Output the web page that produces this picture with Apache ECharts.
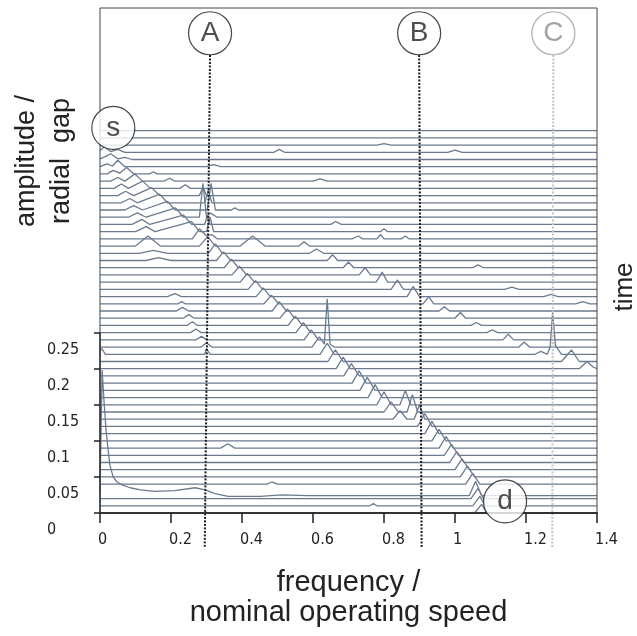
<!DOCTYPE html>
<html>
<head>
<meta charset="utf-8">
<script src="https://cdn.jsdelivr.net/npm/echarts@6/dist/echarts.min.js"></script>
<style>
  html, body { margin: 0; padding: 0; background: #fff; }
  #chart { width: 637px; height: 636px; }
</style>
</head>
<body>
<div id="chart"></div>
<script>
// Waterfall of amplitude spectra: one spectrum per time step, stacked upwards.
const levelStep = 0.01;            // vertical offset between successive spectra
const freqMax = 1.4;
const ampMax = 0.7;
const ampTicks = [0, 0.05, 0.1, 0.15, 0.2, 0.25];

// Break points of each spectrum, [freq, amplitude above own baseline, ...],
// listed from the top (earliest) spectrum to the bottom (latest) one.
const spectra = [
  [],
  [],
  [0.78,0, 0.80,0.002, 0.82,0],
  [0,0.002, 0.012,0.008, 0.03,0.001, 0.05,0.004, 0.07,0, 0.49,0, 0.505,0.004, 0.52,0, 0.98,0, 1.0,0.003, 1.02,0],
  [0,0.001, 0.015,0.004, 0.03,0.008, 0.05,0.001, 0.07,0.003, 0.09,0],
  [0,0, 0.02,0.004, 0.035,0.001, 0.05,0.009, 0.07,0, 0.30,0, 0.32,0.003, 0.34,0],
  [0.02,0, 0.037,0.005, 0.055,0.001, 0.075,0.009, 0.095,0, 0.14,0, 0.15,0.003, 0.16,0],
  [0.03,0, 0.05,0.005, 0.07,0, 0.098,0.010, 0.12,0, 0.18,0, 0.196,0.004, 0.21,0, 0.60,0, 0.62,0.003, 0.64,0],
  [0.04,0, 0.06,0.006, 0.08,0, 0.12,0.010, 0.142,0, 0.225,0, 0.24,0.005, 0.255,0],
  [0.05,0, 0.072,0.006, 0.095,0, 0.145,0.011, 0.168,0, 0.28,0, 0.29,0.012, 0.30,0],
  [0.06,0, 0.084,0.006, 0.105,0, 0.168,0.012, 0.19,0, 0.295,0, 0.305,0.018, 0.315,0],
  [0.07,0, 0.095,0.006, 0.12,0, 0.19,0.012, 0.212,0, 0.302,0, 0.313,0.037, 0.325,0, 0.37,0, 0.38,0.003, 0.39,0],
  [0.08,0, 0.105,0.006, 0.13,0, 0.213,0.013, 0.235,0, 0.28,0, 0.29,0.047, 0.30,0, 0.31,0.006, 0.33,0],
  [0.09,0, 0.118,0.007, 0.14,0, 0.235,0.013, 0.258,0, 0.295,0, 0.302,0.012, 0.31,0, 0.65,0, 0.664,0.004, 0.68,0],
  [0.10,0, 0.13,0.007, 0.155,0, 0.258,0.014, 0.28,0, 0.30,0, 0.31,0.02, 0.32,0, 0.79,0, 0.80,0.004, 0.81,0],
  [0.26,0, 0.28,0.014, 0.30,0.004, 0.315,0.006, 0.33,0, 0.71,0, 0.727,0.004, 0.74,0, 0.78,0, 0.79,0.006, 0.80,0, 0.85,0, 0.86,0.004, 0.87,0],
  [0.10,0, 0.135,0.014, 0.17,0, 0.28,0, 0.303,0.013, 0.325,0, 0.395,0, 0.43,0.014, 0.465,0, 0.56,0, 0.575,0.006, 0.59,0],
  [0.11,0, 0.15,0.004, 0.19,0, 0.305,0, 0.325,0.013, 0.345,0, 0.59,0, 0.61,0.006, 0.63,0],
  [0.13,0, 0.165,0.004, 0.2,0, 0.328,0, 0.348,0.012, 0.368,0, 0.64,0, 0.655,0.008, 0.67,0],
  [0.35,0, 0.37,0.012, 0.39,0, 0.685,0, 0.70,0.008, 0.715,0, 1.05,0, 1.065,0.004, 1.08,0],
  [0.372,0, 0.393,0.012, 0.413,0, 0.73,0, 0.747,0.01, 0.762,0],
  [0.395,0, 0.415,0.012, 0.435,0, 0.778,0, 0.795,0.014, 0.81,0],
  [0.417,0, 0.438,0.012, 0.458,0, 0.82,0, 0.838,0.013, 0.855,0, 1.14,0, 1.16,0.003, 1.18,0],
  [0.19,0, 0.211,0.004, 0.23,0, 0.44,0, 0.46,0.012, 0.48,0, 0.865,0, 0.882,0.014, 0.9,0, 1.25,0, 1.27,0.003, 1.29,0],
  [0.22,0, 0.23,0.003, 0.24,0, 0.462,0, 0.483,0.012, 0.503,0, 0.91,0, 0.926,0.010, 0.94,0, 1.34,0, 1.36,0.003, 1.38,0],
  [0.215,0, 0.232,0.005, 0.25,0, 0.485,0, 0.505,0.013, 0.525,0, 0.955,0, 0.97,0.006, 0.985,0],
  [0.235,0, 0.25,0.005, 0.265,0, 0.507,0, 0.528,0.013, 0.548,0, 1.0,0, 1.015,0.008, 1.03,0],
  [0.245,0, 0.26,0.005, 0.275,0, 0.53,0, 0.55,0.013, 0.57,0, 1.045,0, 1.06,0.004, 1.075,0],
  [0.255,0, 0.27,0.005, 0.285,0, 0.552,0, 0.573,0.014, 0.593,0, 1.09,0, 1.105,0.004, 1.12,0],
  [0.27,0, 0.286,0.005, 0.30,0, 0.575,0, 0.595,0.014, 0.615,0, 1.135,0, 1.15,0.008, 1.165,0],
  [0.285,0, 0.30,0.006, 0.315,0, 0.597,0, 0.618,0.014, 0.632,0.004, 0.64,0.067, 0.648,0.004, 0.66,0, 1.18,0, 1.195,0.007, 1.21,0],
  [0,0.004, 0.005,0.008, 0.015,0, 0.295,0, 0.30,0.008, 0.31,0, 0.62,0, 0.64,0.015, 0.66,0, 1.225,0, 1.242,0.004, 1.26,0, 1.268,0.01, 1.275,0.058, 1.283,0.012, 1.30,0],
  [0.642,0, 0.663,0.016, 0.685,0, 1.30,0, 1.328,0.016, 1.35,0],
  [0.665,0, 0.685,0.016, 0.705,0, 1.35,0, 1.372,0.01, 1.39,0.002],
  [0.687,0, 0.708,0.017, 0.73,0],
  [0.71,0, 0.73,0.017, 0.75,0],
  [0.732,0, 0.753,0.018, 0.775,0],
  [0.755,0, 0.775,0.018, 0.795,0],
  [0.78,0, 0.80,0.018, 0.82,0, 0.845,0, 0.86,0.02, 0.875,0],
  [0.80,0, 0.82,0.014, 0.84,0, 0.865,0, 0.88,0.024, 0.895,0],
  [0.825,0, 0.845,0.012, 0.865,0, 0.885,0, 0.90,0.02, 0.915,0],
  [0.895,0, 0.915,0.018, 0.935,0],
  [0.915,0, 0.935,0.017, 0.955,0],
  [0.935,0, 0.955,0.016, 0.975,0],
  [0.34,0, 0.36,0.006, 0.38,0, 0.955,0, 0.975,0.016, 0.995,0],
  [0.97,0, 0.99,0.015, 1.01,0],
  [0.985,0, 1.005,0.015, 1.025,0],
  [1.0,0, 1.02,0.015, 1.04,0],
  [1.015,0, 1.035,0.015, 1.055,0],
  [0.47,0, 0.484,0.003, 0.5,0, 1.03,0, 1.05,0.015, 1.07,0],
  [0,0.002, 0.006,0.168, 0.011,0.127, 0.017,0.085, 0.023,0.057, 0.028,0.036, 0.037,0.02, 0.048,0.013, 0.062,0.009, 0.085,0.005, 0.113,0.002, 0.155,0, 0.211,0.001, 0.268,0.005, 0.296,0.002, 0.324,-0.003, 0.361,-0.007, 0.451,-0.007, 0.513,-0.005, 0.586,-0.006, 1.0,-0.006, 1.04,-0.006, 1.058,0.014, 1.075,-0.006, 1.4,-0.006],
  [1.045,0, 1.065,0.014, 1.08,0],
  [0.76,0, 0.77,0.003, 0.78,0, 1.05,0, 1.07,0.013, 1.085,0],
  [1.055,0, 1.075,0.012, 1.09,0]
];

// Reference frequencies (dotted guides), drawn slightly slanted as in print.
const guideNames = ['A', 'B', 'C'];
const guideFreqTop = [0.310, 0.899, 1.277];
const guideFreqBottom = [0.295, 0.906, 1.274];
const guideTop = 0.635;
const guideBottom = -0.048;
const bubbleLevel = 0.665;

// Start / end markers of the running-speed ridge.
const ridgeMarks = [
  { name: 's', value: [0.0375, 0.5337] },
  { name: 'd', value: [1.141, 0.016] }
];

const traceColor = '#6b7b8f';
const ink = '#222';
const sansFont = '"Liberation Sans", Arial, sans-serif';
const narrowFont = '"Liberation Sans Narrow", "DejaVu Sans Condensed", sans-serif';

const series = [];
const n = spectra.length;
spectra.forEach((flat, i) => {
  const level = (n - 1 - i) * levelStep;
  const pts = [];
  for (let j = 0; j < flat.length; j += 2) pts.push([flat[j], level + flat[j + 1]]);
  if (!pts.length || pts[0][0] > 0) pts.unshift([0, level]);
  if (pts[pts.length - 1][0] < freqMax) pts.push([freqMax, level]);
  series.push({
    type: 'line',
    data: pts,
    symbol: 'none',
    silent: true,
    animation: false,
    lineStyle: { color: traceColor, width: 1.3 },
    areaStyle: { color: '#fff', opacity: 1, origin: level },
    z: 2
  });
});

// dotted guide lines
guideNames.forEach((g, i) => {
  series.push({
    type: 'line',
    data: [[guideFreqTop[i], guideTop], [guideFreqBottom[i], guideBottom]],
    symbol: 'none', silent: true, animation: false, clip: false,
    lineStyle: { color: g === 'C' ? '#c4c4c4' : '#1e1e1e', width: 2, type: [2, 1.5] },
    z: 5
  });
});

// left axis segment covering the labelled range
series.push({
  type: 'line',
  data: [[0, 0], [0, 0.25]],
  symbol: 'none', silent: true, animation: false, clip: false,
  lineStyle: { color: '#333', width: 1.6 },
  z: 6
});

// lettered bubbles
const bubbleStyle = (dark) => ({
  symbol: 'circle',
  symbolSize: 43,
  itemStyle: { color: '#fff', borderColor: dark ? '#1a1a1a' : '#9a9a9a', borderWidth: 1.2 },
  label: {
    show: true, position: 'inside', formatter: '{b}',
    fontFamily: sansFont, fontSize: 28, color: dark ? '#222' : '#8c8c8c'
  }
});
series.push(Object.assign({
  type: 'scatter', silent: true, animation: false, clip: false, z: 8,
  data: guideNames.map((g, i) => ({ name: g, value: [guideFreqTop[i], bubbleLevel],
    itemStyle: g === 'C' ? { borderColor: '#9a9a9a' } : undefined,
    label: g === 'C' ? { color: '#8c8c8c' } : undefined }))
}, bubbleStyle(true)));
series.push(Object.assign({
  type: 'scatter', silent: true, animation: false, clip: false, z: 8,
  data: ridgeMarks
}, bubbleStyle(true)));

const chart = echarts.init(document.getElementById('chart'), null, { renderer: 'canvas' });
chart.setOption({
  animation: false,
  backgroundColor: '#fff',
  grid: {
    left: 100, right: 40, top: 8, bottom: 123,
    show: true, borderColor: '#444', borderWidth: 1, backgroundColor: 'transparent', z: 7
  },
  xAxis: {
    type: 'value', min: 0, max: freqMax, interval: 0.2,
    z: 7,
    axisLine: { show: true, lineStyle: { color: '#333', width: 2 } },
    axisTick: { show: true, inside: false, length: 10, lineStyle: { color: '#222', width: 1.5 } },
    axisLabel: {
      color: ink, fontFamily: narrowFont, fontSize: 16, margin: 19, align: 'left',
      padding: [0, 0, 0, -2]
    },
    splitLine: { show: false },
    name: 'frequency /\nnominal operating speed',
    nameLocation: 'middle', nameGap: 55,
    nameTextStyle: { color: ink, fontFamily: sansFont, fontSize: 29, lineHeight: 30 }
  },
  yAxis: {
    type: 'value', min: 0, max: ampMax, interval: 0.05,
    z: 7,
    axisLine: { show: false },
    axisTick: { show: true, inside: false, length: 6, customValues: ampTicks,
      lineStyle: { color: '#222', width: 1.5 } },
    axisLabel: {
      customValues: ampTicks, color: ink, fontFamily: narrowFont, fontSize: 16,
      align: 'left', margin: 53, verticalAlign: 'top', padding: [9, 0, 0, 0]
    },
    splitLine: { show: false }
  },
  graphic: [
    {
      type: 'text', x: 44, y: 161, rotation: Math.PI / 2,
      style: {
        text: 'amplitude /\nradial  gap', fill: ink, font: '27px ' + sansFont,
        align: 'center', verticalAlign: 'middle', lineHeight: 35
      }
    },
    {
      type: 'text', x: 625, y: 287, rotation: Math.PI / 2,
      style: { text: 'time', fill: ink, font: '26px ' + sansFont, align: 'center', verticalAlign: 'middle' }
    }
  ],
  series: series
});
</script>
</body>
</html>
